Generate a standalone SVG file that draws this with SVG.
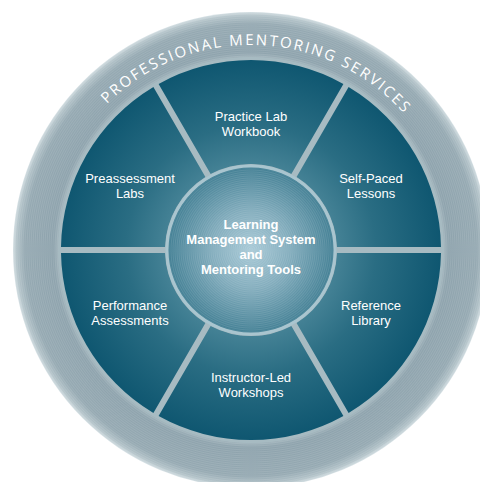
<svg xmlns="http://www.w3.org/2000/svg" width="480" height="482" viewBox="0 0 480 482">
<defs>
  <radialGradient id="ringG" gradientUnits="userSpaceOnUse" cx="251" cy="250" r="238">
    <stop offset="0.80" stop-color="#a9bbc2"/>
    <stop offset="0.83" stop-color="#8ea3ad"/>
    <stop offset="0.95" stop-color="#95a9b2"/>
    <stop offset="0.985" stop-color="#b3c3c9"/>
    <stop offset="1" stop-color="#d4dfe3"/>
  </radialGradient>
  <radialGradient id="texG" gradientUnits="userSpaceOnUse" cx="251" cy="250" r="2" spreadMethod="repeat">
    <stop offset="0" stop-color="#ffffff" stop-opacity="0.10"/>
    <stop offset="0.5" stop-color="#ffffff" stop-opacity="0"/>
    <stop offset="1" stop-color="#ffffff" stop-opacity="0.10"/>
  </radialGradient>
  <radialGradient id="secG" gradientUnits="userSpaceOnUse" cx="251" cy="250" r="192">
    <stop offset="0.40" stop-color="#4a8699"/>
    <stop offset="0.65" stop-color="#2a6d83"/>
    <stop offset="1" stop-color="#0e5670"/>
  </radialGradient>
  <radialGradient id="hubG" gradientUnits="userSpaceOnUse" cx="251" cy="250" r="86">
    <stop offset="0" stop-color="#a9cad7"/>
    <stop offset="0.45" stop-color="#83adbd"/>
    <stop offset="1" stop-color="#3f7d92"/>
  </radialGradient>
  <path id="arcPath" d="M 46 250 A 205 205 0 0 1 456 250"/>
  <path id="sector" d="M158.60,83.96 A190,190 0 0,1 343.40,83.96 L291.38,174.07 A86,86 0 0,0 210.62,174.07 Z"/>
</defs>
<style>
  .sec { fill: url(#secG); }
  .lbl { font-family: "Liberation Sans", Arial, sans-serif; font-size: 13px; fill: #ffffff; text-anchor: middle; }
  .hub { font-family: "Liberation Sans", Arial, sans-serif; font-size: 13px; font-weight: bold; fill: #ffffff; text-anchor: middle; }
  .arc { font-family: "Open Sans", "Noto Sans", "DejaVu Sans", sans-serif; font-size: 15px; fill: #ffffff; letter-spacing: 2.1px; }
</style>
<rect width="480" height="482" fill="#ffffff"/>
<g id="outer-ring">
  <circle cx="251" cy="250" r="238" fill="url(#ringG)"/>
  <circle cx="251" cy="250" r="238" fill="url(#texG)"/>
  <text class="arc" transform="rotate(2 251 250)"><textPath href="#arcPath" startOffset="50%" text-anchor="middle">PROFESSIONAL MENTORING SERVICES</textPath></text>
</g>
<g id="disk">
  <circle cx="251" cy="250" r="193" fill="#a7bbc2"/>
</g>
<g id="practice-lab">
  <use href="#sector" class="sec"/>
  <text class="lbl" x="251" y="121">Practice Lab</text>
  <text class="lbl" x="251" y="136">Workbook</text>
</g>
<g id="self-paced">
  <use href="#sector" class="sec" transform="rotate(60 251 250)"/>
  <text class="lbl" x="371" y="183">Self-Paced</text>
  <text class="lbl" x="371" y="198">Lessons</text>
</g>
<g id="reference-library">
  <use href="#sector" class="sec" transform="rotate(120 251 250)"/>
  <text class="lbl" x="371" y="310">Reference</text>
  <text class="lbl" x="371" y="325">Library</text>
</g>
<g id="instructor-led">
  <use href="#sector" class="sec" transform="rotate(180 251 250)"/>
  <text class="lbl" x="251" y="382">Instructor-Led</text>
  <text class="lbl" x="251" y="397">Workshops</text>
</g>
<g id="performance">
  <use href="#sector" class="sec" transform="rotate(240 251 250)"/>
  <text class="lbl" x="130" y="310">Performance</text>
  <text class="lbl" x="130" y="325">Assessments</text>
</g>
<g id="preassessment">
  <use href="#sector" class="sec" transform="rotate(300 251 250)"/>
  <text class="lbl" x="130" y="183">Preassessment</text>
  <text class="lbl" x="130" y="198">Labs</text>
</g>
<g id="connectors"></g>
<g id="hub">
  <circle cx="251" cy="250" r="84" fill="url(#hubG)" stroke="#a9c5cf" stroke-width="3"/>
  <circle cx="251" cy="250" r="82" fill="url(#texG)"/>
  <text class="hub" x="251" y="229">Learning</text>
  <text class="hub" x="251" y="244">Management System</text>
  <text class="hub" x="251" y="259">and</text>
  <text class="hub" x="251" y="274">Mentoring Tools</text>
</g>
</svg>
